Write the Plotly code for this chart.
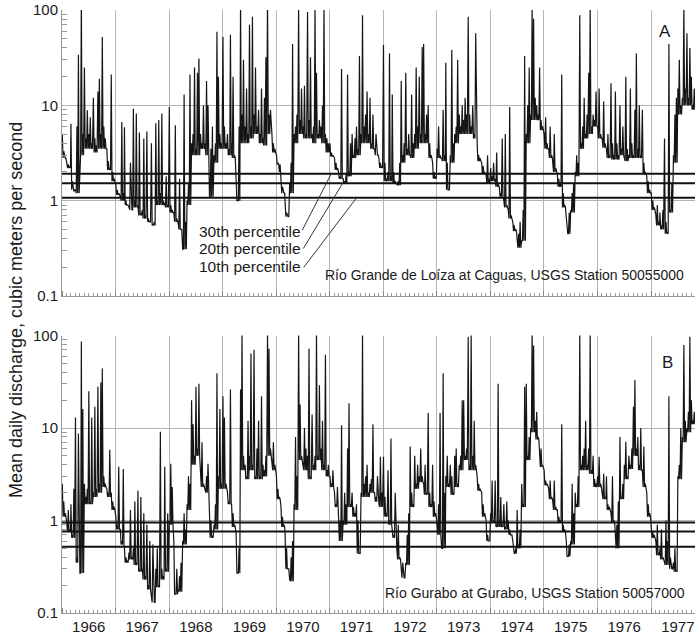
import plotly.graph_objects as go

# ---------------- data (mean daily discharge, m3/s) ----------------
# peak readings: 3 per month (around days 3, 13, 23); base flows: 1 per month
start_year = 1966
peak_days = [3, 13, 23]
base_days = [8, 18, 28]

loiza = [
    # 1966
    5.0, 3.3, 2.8, 2.5, 2.4, 2.3, 6.4, 1.6, 1.25, 1.3, 6.0, 34, 3.0, 130, 5.0, 25, 4.5, 8.9,
    5.0, 7.5, 4.0, 12, 4.5, 3.8, 14, 19, 5.0, 52, 6.0, 4.5, 3.5, 2.6, 2.2, 21, 2.0, 1.7,
    # 1967
    1.5, 1.3, 1.2, 1.1, 6.7, 1.2, 5.9, 1.0, 0.9, 0.85, 2.5, 0.8, 9.2, 1.0, 8.2, 0.9, 5.2, 0.75,
    0.8, 4.5, 0.7, 5.3, 0.65, 0.6, 4.0, 0.57, 0.6, 6.5, 1.0, 7.0, 1.2, 8.2, 1.0, 0.95, 1.8, 0.9,
    # 1968
    9.6, 0.9, 0.8, 0.75, 6.2, 0.65, 0.6, 1.7, 0.5, 0.31, 13, 0.6, 1.0, 1.5, 21, 4.0, 5.0, 25,
    3.5, 22, 31, 5.0, 4.0, 10, 4.0, 18, 10, 1.1, 3.5, 6.0, 3.0, 4.0, 59, 20, 5.0, 4.0,
    # 1969
    52, 6.0, 4.0, 5.0, 3.5, 55, 4.0, 20, 3.0, 1.2, 1.0, 6.0, 130, 8.0, 30, 6.0, 15, 5.0,
    70, 6.0, 85, 8.0, 25, 6.0, 9.0, 5.0, 15, 4.5, 12, 32, 130, 8.0, 9.0, 5.0, 4.0, 3.5,
    # 1970
    3.0, 2.5, 2.0, 1.6, 1.4, 1.2, 0.9, 0.75, 0.68, 1.5, 2.5, 44, 5.0, 6.0, 8.0, 110, 7.0, 15,
    6.0, 16, 5.0, 95, 7.0, 32, 5.0, 6.0, 110, 22, 5.0, 7.0, 6.0, 10, 110, 5.0, 4.5, 4.0,
    # 1971
    4.0, 3.2, 3.0, 2.8, 2.5, 2.2, 2.0, 1.8, 24, 1.7, 1.6, 1.9, 21, 2.0, 4.0, 5.0, 3.0, 4.5,
    6.0, 3.5, 33, 5.0, 88, 6.0, 8.0, 14, 5.0, 12, 4.0, 8.0, 3.5, 5.0, 3.0, 2.8, 2.5, 2.3,
    # 1972
    43, 2.5, 1.7, 2.0, 35, 1.8, 13, 2.0, 1.6, 1.5, 1.6, 2.5, 18, 3.0, 4.0, 22, 3.5, 5.0,
    3.0, 13, 4.0, 5.0, 25, 6.0, 20, 5.0, 41, 44, 5.0, 8.0, 10, 4.0, 3.0, 2.5, 2.0, 1.8,
    # 1973
    3.5, 6.0, 3.0, 2.8, 9.0, 3.0, 28, 2.5, 1.3, 3.0, 38, 4.0, 5.0, 6.0, 30, 8.0, 6.0, 10,
    7.0, 12, 8.0, 85, 8.0, 6.0, 10, 5.0, 57, 4.0, 3.0, 2.8, 2.5, 2.3, 2.0, 1.9, 3.0, 1.7,
    # 1974
    2.2, 1.8, 2.5, 1.7, 3.2, 1.5, 1.4, 1.2, 4.5, 1.0, 5.0, 0.9, 0.8, 9.6, 0.7, 0.6, 0.55, 0.5,
    0.32, 0.45, 0.6, 0.38, 0.8, 33, 5.0, 10, 25, 8.0, 110, 81, 12, 10, 8.0, 25, 7.0, 6.0,
    # 1975
    5.0, 7.5, 4.0, 3.5, 6.0, 3.0, 2.5, 5.0, 2.2, 1.9, 1.7, 1.5, 21, 1.2, 0.9, 0.6, 0.45, 0.75,
    0.8, 1.2, 1.5, 2.0, 3.0, 2.5, 88, 4.0, 6.0, 12, 5.0, 8.0, 22, 110, 6.0, 8.0, 7.0, 14,
    # 1976
    6.0, 15, 5.0, 4.5, 11, 4.0, 3.5, 5.0, 3.0, 17, 4.0, 3.0, 14, 4.0, 3.0, 10, 3.5, 6.0,
    2.8, 20, 3.5, 3.0, 15, 4.0, 3.0, 9.0, 35, 3.5, 10, 3.0, 9.0, 2.5, 2.0, 1.8, 1.6, 1.3,
    # 1977 (Jan-Oct)
    1.2, 1.0, 0.85, 0.7, 0.9, 0.6, 0.75, 0.55, 0.8, 4.5, 0.6, 0.46, 44, 0.8, 1.5, 3.0, 8.0, 12,
    15, 30, 10, 12, 110, 15, 57, 12, 40, 20, 10, 15,
]

loiza_base = [
    2.8, 2.2, 1.3, 1.2, 3.0, 3.5, 3.5, 3.2, 3.5, 3.5, 2.1, 1.6,          # 1966
    1.15, 1.0, 0.9, 0.8, 0.85, 0.7, 0.65, 0.6, 0.55, 0.9, 0.9, 0.85,    # 1967
    0.75, 0.6, 0.5, 0.31, 0.9, 3.0, 3.0, 3.5, 3.0, 1.1, 2.5, 3.5,       # 1968
    3.5, 3.0, 2.8, 1.0, 4.0, 4.0, 4.5, 5.0, 4.0, 3.8, 5.0, 3.2,         # 1969
    2.4, 1.2, 0.68, 1.2, 4.0, 5.0, 4.5, 4.5, 4.0, 4.5, 4.0, 3.2,        # 1970
    2.9, 2.1, 1.7, 1.5, 1.8, 2.8, 3.0, 4.0, 4.0, 3.5, 3.0, 2.2,         # 1971
    1.6, 1.6, 1.5, 1.45, 2.5, 3.0, 2.8, 3.5, 4.0, 4.0, 2.8, 1.7,        # 1972
    2.8, 2.6, 1.3, 2.5, 4.0, 5.0, 5.0, 5.0, 4.5, 2.6, 1.9, 1.5,         # 1973
    1.6, 1.4, 1.1, 0.85, 0.65, 0.48, 0.32, 0.38, 4.0, 7.0, 7.0, 5.5,    # 1974
    3.5, 2.8, 2.0, 1.4, 0.85, 0.45, 0.75, 1.8, 3.5, 4.5, 5.0, 6.0,      # 1975
    4.5, 3.6, 2.8, 2.7, 2.7, 3.0, 2.6, 2.8, 2.8, 2.8, 1.9, 1.2,         # 1976
    0.8, 0.55, 0.5, 0.45, 0.75, 2.5, 8.0, 10, 10, 9.0,                  # 1977
]

gurabo = [
    # 1966
    2.5, 1.6, 1.2, 0.9, 1.3, 0.8, 1.5, 0.7, 2.2, 13, 0.4, 8.7, 0.27, 86, 16, 2.5, 1.8, 2.2,
    25, 1.6, 13, 2.0, 17, 2.2, 28, 2.5, 31, 44, 3.0, 2.5, 2.2, 2.0, 5.8, 2.0, 1.6, 1.4,
    # 1967
    1.1, 0.9, 3.8, 0.8, 0.6, 3.6, 0.5, 0.4, 0.37, 0.45, 1.3, 0.4, 0.5, 1.6, 0.35, 2.1, 0.3, 1.8,
    0.3, 1.2, 0.25, 0.9, 0.2, 0.6, 0.15, 0.55, 0.13, 0.3, 0.5, 0.2, 9.1, 0.3, 0.25, 3.8, 0.3, 1.2,
    # 1968
    1.0, 4.1, 2.3, 0.6, 0.16, 0.3, 0.18, 0.25, 0.35, 0.6, 1.2, 0.8, 1.5, 3.0, 2.5, 20, 11, 5.0,
    28, 6.0, 30, 3.0, 7.0, 2.5, 2.2, 3.0, 4.1, 1.4, 1.0, 0.67, 0.9, 1.5, 39, 3.0, 16, 2.5,
    # 1969
    22, 13, 2.5, 2.0, 1.6, 26, 1.5, 1.2, 0.9, 0.7, 0.27, 0.5, 26, 110, 5.0, 4.0, 3.0, 12,
    5.0, 64, 4.0, 70, 3.0, 6.0, 12, 3.0, 22, 4.0, 3.5, 5.0, 110, 72, 6.0, 5.0, 7.0, 4.0,
    # 1970
    3.0, 2.2, 1.8, 1.4, 1.1, 0.9, 0.7, 0.5, 0.3, 0.23, 0.4, 0.6, 1.5, 8.0, 3.0, 110, 18, 5.0,
    4.0, 10, 6.0, 5.0, 72, 3.0, 14, 4.0, 5.0, 110, 5.0, 29, 6.0, 12, 4.0, 62, 3.5, 4.0,
    # 1971
    3.0, 2.5, 3.5, 2.0, 1.5, 2.3, 0.6, 1.0, 10.7, 1.0, 2.0, 1.5, 6.0, 18.5, 1.5, 2.0, 1.4, 1.2,
    1.5, 1.0, 0.44, 2.0, 110, 2.5, 3.0, 4.0, 2.0, 2.5, 2.8, 11, 2.0, 1.8, 3.0, 1.5, 4.9, 2.0,
    # 1972
    4.9, 1.8, 1.2, 3.5, 1.0, 7.7, 0.8, 0.7, 2.0, 0.5, 0.9, 0.4, 0.3, 0.35, 0.24, 0.35, 0.7, 1.2,
    6.3, 2.0, 1.5, 5.0, 2.5, 4.0, 3.0, 6.0, 3.0, 2.5, 4.0, 2.0, 14.5, 2.0, 1.5, 4.0, 1.6, 1.2,
    # 1973
    0.72, 1.5, 14.5, 0.5, 39, 2.0, 3.0, 5.0, 2.5, 4.0, 3.0, 2.0, 5.0, 6.0, 2.5, 4.0, 5.0, 20,
    20, 5.0, 6.0, 97, 4.0, 110, 5.0, 12, 4.0, 3.0, 2.5, 2.2, 2.0, 1.5, 1.2, 1.0, 0.7, 0.6,
    # 1974
    1.2, 2.7, 1.0, 2.7, 0.9, 30, 1.0, 1.8, 0.9, 1.5, 0.85, 1.6, 1.0, 0.8, 0.7, 0.6, 0.44, 0.5,
    1.3, 0.55, 0.8, 2.5, 1.5, 28, 30, 5.0, 8.0, 10, 110, 78, 12, 15, 8.0, 5.0, 6.0, 4.0,
    # 1975
    3.5, 2.7, 2.5, 2.2, 2.7, 1.8, 1.6, 2.7, 1.4, 1.3, 1.1, 1.0, 11, 0.9, 0.8, 0.6, 0.41, 0.55,
    0.6, 2.5, 1.2, 2.0, 1.5, 3.0, 110, 4.0, 5.0, 6.0, 12, 4.0, 6.0, 110, 3.5, 5.0, 2.8, 2.5,
    # 1976
    3.0, 4.9, 2.5, 2.0, 3.2, 1.8, 3.0, 1.5, 1.4, 1.2, 3.0, 1.0, 0.52, 0.9, 1.6, 8.0, 1.8, 2.5,
    4.0, 7.1, 3.0, 5.0, 4.0, 6.0, 17, 33, 6.0, 8.0, 4.0, 10, 3.5, 6.3, 2.5, 2.0, 1.5, 1.2,
    # 1977 (Jan-Oct)
    0.9, 0.75, 0.7, 0.6, 0.9, 0.45, 0.5, 0.8, 0.4, 0.35, 1.0, 0.6, 22, 0.4, 0.3, 0.35, 0.5, 0.29,
    3.0, 4.0, 10, 8.0, 79, 12, 10, 15, 97, 20, 12, 15,
]

gurabo_base = [
    1.1, 0.75, 0.65, 0.35, 0.27, 1.5, 1.5, 1.8, 2.0, 2.3, 1.8, 1.3,        # 1966
    0.8, 0.55, 0.35, 0.38, 0.33, 0.28, 0.23, 0.18, 0.13, 0.19, 0.23, 0.28, # 1967
    0.9, 0.16, 0.17, 0.55, 1.3, 4.0, 5.0, 2.3, 2.0, 0.65, 0.8, 2.2,        # 1968
    2.2, 1.5, 0.85, 0.27, 3.5, 2.8, 3.5, 2.8, 2.8, 3.0, 5.0, 3.5,          # 1969
    1.7, 0.85, 0.3, 0.22, 1.3, 4.5, 3.5, 2.8, 3.5, 4.5, 3.5, 3.0,          # 1970
    2.3, 1.4, 0.6, 0.9, 1.4, 1.1, 0.44, 1.8, 1.8, 2.0, 1.6, 1.4,           # 1971
    1.1, 0.9, 0.65, 0.38, 0.24, 0.33, 1.4, 2.2, 2.6, 1.9, 1.4, 1.1,        # 1972
    0.7, 0.5, 2.3, 1.9, 2.3, 3.5, 4.5, 3.5, 3.5, 2.1, 1.1, 0.6,            # 1973
    0.95, 0.85, 0.85, 0.8, 0.7, 0.44, 0.5, 1.4, 4.5, 9.0, 7.5, 3.8,        # 1974
    2.4, 1.7, 1.3, 0.95, 0.75, 0.41, 0.55, 1.4, 3.5, 3.5, 3.2, 2.3,        # 1975
    2.3, 1.7, 1.3, 0.95, 0.5, 1.7, 2.8, 3.6, 5.0, 3.5, 2.3, 1.1,           # 1976
    0.65, 0.42, 0.38, 0.33, 0.3, 0.28, 2.8, 7.0, 9.0, 11,                  # 1977
]

# percentile flows (m3/s): 30th, 20th, 10th
loiza_pct = [1.92, 1.52, 1.07]
gurabo_pct = [0.95, 0.76, 0.52]
pct_names = ["30th percentile", "20th percentile", "10th percentile"]

year_range = ["1966-01-01", "1977-10-28"]
y_ticks = [0.1, 1, 10, 100]
y_ticktext = ["0.1", "1", "10", "100"]


def build_series(peaks, bases):
    """Interleave the three peak readings of each month with that month's base flow."""
    xs, ys = [], []
    n_months = min(len(peaks) // 3, len(bases))
    for j in range(n_months):
        y = start_year + j // 12
        m = j % 12 + 1
        for s in range(3):
            xs.append(f"{y}-{m:02d}-{peak_days[s]:02d}")
            ys.append(peaks[3 * j + s])
            xs.append(f"{y}-{m:02d}-{base_days[s]:02d}")
            ys.append(bases[j])
    return xs, ys


FONT = "Liberation Sans, Arial, Helvetica, sans-serif"
TXT = "#1a1a1a"
GRID = "#b4b4b4"
LINE = "#151515"

fig = go.Figure()
lx, ly = build_series(loiza, loiza_base)
gx, gy = build_series(gurabo, gurabo_base)
fig.add_trace(go.Scatter(x=lx, y=ly, mode="lines", line=dict(color=LINE, width=1.2),
                         xaxis="x", yaxis="y", showlegend=False, hoverinfo="skip"))
fig.add_trace(go.Scatter(x=gx, y=gy, mode="lines", line=dict(color=LINE, width=1.2),
                         xaxis="x2", yaxis="y2", showlegend=False, hoverinfo="skip"))

minor_y = [m * 10.0 ** e for e in range(-1, 2) for m in range(2, 10)]


def xaxis_cfg(labels, anchor):
    return dict(
        type="date", range=year_range, anchor=anchor, domain=[0, 1],
        dtick="M12", tick0="1966-01-01", tickformat="%Y",
        ticklabelmode="period", showticklabels=labels,
        ticks="inside", ticklen=5, tickcolor="#888",
        showgrid=True, gridcolor=GRID, gridwidth=1,
        showline=True, linecolor="#999", linewidth=1,
        minor=dict(dtick="M1", tick0="1966-01-01", ticks="inside", ticklen=3,
                   tickcolor="#999", showgrid=False),
        tickfont=dict(family=FONT, size=15, color=TXT),
        zeroline=False, fixedrange=True,
    )


def yaxis_cfg(domain, anchor):
    return dict(
        type="log", range=[-1, 2], domain=domain, anchor=anchor,
        tickmode="array", tickvals=y_ticks, ticktext=y_ticktext,
        ticks="", showgrid=True, gridcolor=GRID, gridwidth=1,
        showline=True, linecolor="#999", linewidth=1,
        minor=dict(tickmode="array", tickvals=minor_y, ticks="inside", ticklen=5,
                   tickcolor="#999", showgrid=False),
        tickfont=dict(family=FONT, size=15, color=TXT),
        zeroline=False, fixedrange=True,
    )


shapes = []
for p in loiza_pct:
    shapes.append(dict(type="line", xref="x domain", x0=0, x1=1, yref="y", y0=p, y1=p,
                       line=dict(color="#111", width=2)))
for p in gurabo_pct:
    shapes.append(dict(type="line", xref="x2 domain", x0=0, x1=1, yref="y2", y0=p, y1=p,
                       line=dict(color="#111", width=2)))

# leader lines from the percentile labels to the percentile lines
leader_low = [("1970-06-28", 0.49), ("1970-07-05", 0.315), ("1970-07-08", 0.20)]
leader_high = ["1971-01-12", "1971-03-30", "1971-07-03"]
for (x0, y0), x1, p in zip(leader_low, leader_high, loiza_pct):
    shapes.append(dict(type="line", xref="x", yref="y", x0=x0, y0=y0, x1=x1, y1=p,
                       line=dict(color="#333", width=1)))

annotations = []
for name, ypx in zip(pct_names, [231, 249, 267]):
    annotations.append(dict(text=name, xref="paper", yref="paper", x=0.3807,
                            y=(613 - ypx) / 603, xanchor="right", yanchor="middle",
                            showarrow=False, font=dict(family=FONT, size=15.5, color=TXT)))
annotations += [
    dict(text="Río Grande de Loíza at Caguas, USGS Station 50055000", xref="paper", yref="paper",
         x=0.985, y=(613 - 275) / 603, xanchor="right", yanchor="middle", showarrow=False,
         font=dict(family=FONT, size=14, color=TXT)),
    dict(text="Río Gurabo at Gurabo, USGS Station 50057000", xref="paper", yref="paper",
         x=0.987, y=(613 - 593) / 603, xanchor="right", yanchor="middle", showarrow=False,
         font=dict(family=FONT, size=14, color=TXT)),
    dict(text="A", xref="paper", yref="paper", x=(665 - 62) / 633, y=(613 - 32) / 603,
         xanchor="center", yanchor="middle", showarrow=False,
         font=dict(family=FONT, size=17, color=TXT)),
    dict(text="B", xref="paper", yref="paper", x=(667 - 62) / 633, y=(613 - 362) / 603,
         xanchor="center", yanchor="middle", showarrow=False,
         font=dict(family=FONT, size=17, color=TXT)),
    dict(text="Mean daily discharge, cubic meters per second", xref="paper", yref="paper",
         x=(16 - 62) / 633, y=(613 - 310) / 603, xanchor="center", yanchor="middle",
         textangle=-90, showarrow=False, font=dict(family=FONT, size=18, color=TXT)),
]

fig.update_layout(
    width=695, height=635,
    margin=dict(l=62, r=0, t=10, b=22, autoexpand=False),
    paper_bgcolor="white", plot_bgcolor="white",
    xaxis=xaxis_cfg(False, "y"),
    yaxis=yaxis_cfg([(613 - 296) / 603, 1.0], "x"),
    xaxis2=xaxis_cfg(True, "y2"),
    yaxis2=yaxis_cfg([0.0, (613 - 335.5) / 603], "x2"),
    shapes=shapes, annotations=annotations, showlegend=False,
)

fig.write_html("out.html")
